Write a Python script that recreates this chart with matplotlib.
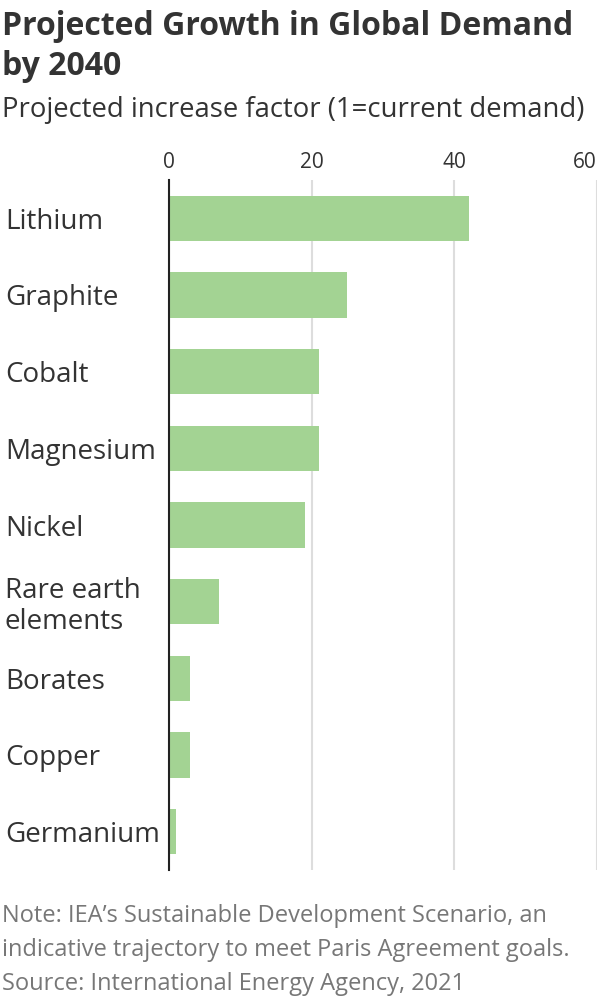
import numpy as np
import matplotlib.pyplot as plt

plt.rcParams['font.family'] = ['Open Sans', 'DejaVu Sans']

minerals = ['Lithium', 'Graphite', 'Cobalt', 'Magnesium', 'Nickel',
            'Rare earth\nelements', 'Borates', 'Copper', 'Germanium']
growth = [42, 25, 21, 21, 19, 7, 3, 3, 1]
ticks = [0, 20, 40, 60]

W, H = 600, 1000
fig = plt.figure(figsize=(6, 10), dpi=100)
ax = fig.add_axes([169/W, 1 - 870/H, (597-169)/W, (870-180)/H])

y = np.arange(len(minerals))
ax.barh(y, growth, height=0.59, color='#a3d393', zorder=2)
ax.set_ylim(len(minerals) - 0.5, -0.5)
ax.set_xlim(0, 60)
ax.set_xticks(ticks)
ax.xaxis.tick_top()
ax.tick_params(axis='x', length=0, labelsize=15, labelcolor='#333333', pad=5)
ax.get_xticklabels()[-1].set_ha('right')
ax.set_yticks(y)
ax.set_yticklabels(minerals, fontsize=20, color='#333333', ha='left', linespacing=1.12)
ax.tick_params(axis='y', length=0, pad=(169-5)*0.72)
ax.grid(axis='x', color='#dddddd', linewidth=1.5, zorder=0)
for s in ['top', 'right', 'bottom']:
    ax.spines[s].set_visible(False)
ax.spines['left'].set_color('#222222')
ax.spines['left'].set_linewidth(1.5)
ax.spines['left'].set_zorder(3)

def put(txt, ybase, **kw):
    fig.text(2/W, 1 - ybase/H, txt, va='baseline', **kw)

put('Projected Growth in Global Demand', 35, fontsize=23, fontweight='bold', color='#333333')
put('by 2040', 75, fontsize=23, fontweight='bold', color='#333333')
put('Projected increase factor (1=current demand)', 117, fontsize=19.8, color='#333333')
put("Note: IEA\u2019s Sustainable Development Scenario, an", 922, fontsize=17, color='#777777')
put('indicative trajectory to meet Paris Agreement goals.', 956, fontsize=17, color='#777777')
put('Source: International Energy Agency, 2021', 990, fontsize=17, color='#777777')

plt.savefig('out.png')
